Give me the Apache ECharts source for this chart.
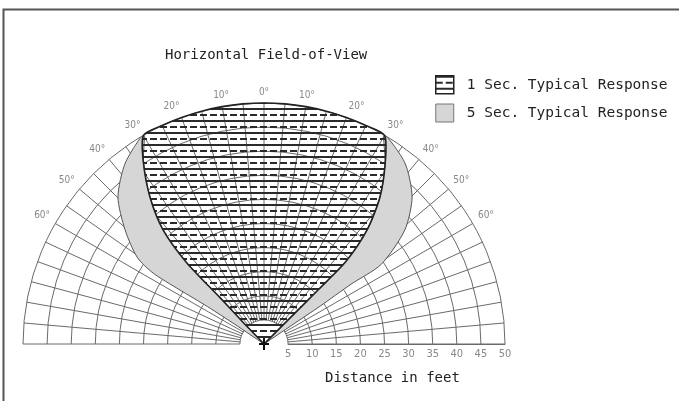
<!DOCTYPE html>
<html>
<head>
<meta charset="utf-8">
<script src="https://cdn.jsdelivr.net/npm/echarts@6/dist/echarts.min.js"></script>
<style>
  html, body { margin: 0; padding: 0; background: #fff; }
  #chart { width: 679px; height: 401px; }
</style>
</head>
<body>
<div id="chart"></div>
<script>
// distance axis (feet) and angle axis (degrees)
const distanceMin = 5
const distanceMax = 50
const distanceStep = 5
const angleMin = -90
const angleMax = 90
const angleStep = 5
const angleLabelMax = 60

// boundaries as [distance ft, angle deg]; angle + is left of centre
// 5 sec response, outer edge, centre -> top
const fiveSecLeft = [[0, 56], [7, 56], [14, 56.5], [21, 57.3], [27.3, 57.4], [31.9, 55.6], [37.3, 50.6], [43, 44.8], [47.3, 37.5], [50, 30]]
const fiveSecRight = [[0, -56], [7, -56], [14, -56], [21.9, -55.5], [29.4, -55.8], [37.6, -51], [43.3, -45.2], [47.6, -37.9], [50, -30]]
// 1 sec response, side edges, top -> centre
const oneSecLeft = [[50, 30], [45.2, 33.6], [38.6, 37.8], [31.6, 41.5], [23.2, 43.6], [13.4, 43.5], [6.2, 44], [0, 44]]
const oneSecRight = [[50, -30], [45.2, -33.8], [38.8, -38.3], [31.9, -42.1], [24.1, -44.8], [16, -45], [7, -45], [0, -45]]
// 1 sec response, top edge along 50 ft
const oneSecTop = [[50, 30], [50, 25], [50, 20], [50, 15], [50, 10], [50, 5], [50, 0], [50, -5], [50, -10], [50, -15], [50, -20], [50, -25], [50, -30]]
const sensorPos = [[0, 0]]

const seriesNames = ['1 Sec. Typical Response', '5 Sec. Typical Response']

/* 横线+虚线的填充图案 */
function makeHatch() {
  let c = document.createElement('canvas')
  c.width = 10
  c.height = 12
  let ctx = c.getContext('2d')
  ctx.fillStyle = '#2a2a2a'
  ctx.fillRect(0, 0, 10, 2)
  ctx.fillRect(0, 6, 7, 2)
  return { image: c, repeat: 'repeat' }
}
const hatch = makeHatch()

const crescentLeft = fiveSecLeft.concat(oneSecLeft.slice(1))
const crescentRight = fiveSecRight.concat(oneSecRight.slice(1))
const oneSecShape = oneSecLeft.slice().reverse().concat(oneSecTop.slice(1), oneSecRight.slice(1))

function polygonRender(points, style) {
  return (params, api) => {
    if (params.dataIndex !== 0) return null
    return {
      type: 'polygon',
      shape: { points: points.map((p) => api.coord(p)), smooth: 0.25 },
      style: style,
    }
  }
}

const gridColor = '#6a6a6a'
const font = 'DejaVu Sans Mono'

let myChart = echarts.init(document.getElementById('chart'))
let option = {
  animation: false,
  backgroundColor: '#fff',
  title: [
    {
      text: 'Horizontal Field-of-View',
      left: 165,
      top: 48,
      padding: 0,
      textStyle: { fontFamily: font, fontSize: 14, fontWeight: 'normal', color: '#222' },
    },
    {
      text: 'Distance in feet',
      left: 325,
      top: 371,
      padding: 0,
      textStyle: { fontFamily: font, fontSize: 14, fontWeight: 'normal', color: '#222' },
    },
  ],
  legend: {
    orient: 'vertical',
    left: 435,
    top: 75,
    padding: 0,
    itemWidth: 18,
    itemHeight: 18,
    itemGap: 9,
    selectedMode: false,
    textStyle: { fontFamily: font, fontSize: 14.5, color: '#222', padding: [0, 0, 0, 8] },
    data: [
      { name: seriesNames[0], icon: 'rect', itemStyle: { color: hatch, borderColor: '#222', borderWidth: 1.5 } },
      { name: seriesNames[1], icon: 'rect', itemStyle: { color: '#d6d6d6', borderColor: '#777', borderWidth: 1 } },
    ],
  },
  polar: {
    center: [264, 344],
    radius: [24.1, 241],
  },
  angleAxis: {
    type: 'value',
    min: angleMin,
    max: angleMax,
    interval: angleStep,
    startAngle: 0,
    endAngle: 180,
    clockwise: false,
    axisLine: { show: false },
    axisTick: { show: false },
    splitLine: { lineStyle: { color: gridColor, width: 1 } },
    axisLabel: {
      margin: 6,
      color: '#888',
      fontFamily: 'DejaVu Sans Condensed',
      fontSize: 10,
      formatter: (v) => (v % 10 === 0 && Math.abs(v) <= angleLabelMax ? Math.abs(v) + '°' : ''),
    },
  },
  radiusAxis: {
    type: 'value',
    min: distanceMin,
    max: distanceMax,
    interval: distanceStep,
    axisLine: { lineStyle: { color: gridColor, width: 1 } },
    axisTick: { show: false },
    splitLine: { lineStyle: { color: gridColor, width: 1 } },
    axisLabel: {
      margin: -16,
      color: '#888',
      fontFamily: 'DejaVu Sans Condensed',
      fontSize: 11,
    },
  },
  series: [
    {
      name: seriesNames[1],
      type: 'custom',
      coordinateSystem: 'polar',
      data: crescentLeft,
      itemStyle: { color: '#d6d6d6' },
      renderItem: polygonRender(crescentLeft, { fill: '#d6d6d6', stroke: '#555', lineWidth: 1 }),
    },
    {
      name: seriesNames[1],
      type: 'custom',
      coordinateSystem: 'polar',
      data: crescentRight,
      itemStyle: { color: '#d6d6d6' },
      renderItem: polygonRender(crescentRight, { fill: '#d6d6d6', stroke: '#555', lineWidth: 1 }),
    },
    {
      name: seriesNames[0],
      type: 'custom',
      coordinateSystem: 'polar',
      data: oneSecShape,
      itemStyle: { color: '#555' },
      renderItem: polygonRender(oneSecShape, { fill: hatch, stroke: '#222', lineWidth: 1.6 }),
    },
    {
      type: 'custom',
      coordinateSystem: 'polar',
      data: sensorPos,
      renderItem: (params, api) => {
        let p = api.coord(sensorPos[params.dataIndex])
        return {
          type: 'group',
          children: [
            { type: 'line', shape: { x1: p[0] - 5, y1: p[1], x2: p[0] + 5, y2: p[1] }, style: { stroke: '#111', lineWidth: 2 } },
            { type: 'line', shape: { x1: p[0], y1: p[1] - 6, x2: p[0], y2: p[1] + 6 }, style: { stroke: '#111', lineWidth: 2 } },
          ],
        }
      },
    },
  ],
  graphic: [
    {
      type: 'polyline',
      shape: { points: [[3.5, 401], [3.5, 9.5], [679, 9.5]] },
      style: { stroke: '#555', lineWidth: 2, fill: null },
    },
  ],
}
myChart.setOption(option)
</script>
</body>
</html>
